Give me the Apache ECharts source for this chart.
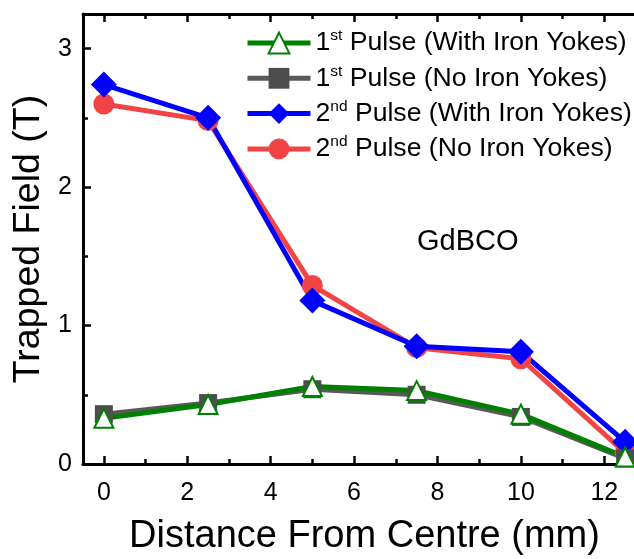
<!DOCTYPE html>
<html>
<head>
<meta charset="utf-8">
<script src="https://cdn.jsdelivr.net/npm/echarts@6/dist/echarts.min.js"></script>
<style>html,body{margin:0;padding:0;background:#fff}#c{width:634px;height:559px}</style>
</head>
<body>
<div id="c"></div>
<script>
// ---- data ----
var distances = [0, 2.5, 5, 7.5, 10, 12.5];
var firstWith = [0.33, 0.43, 0.56, 0.53, 0.36, 0.05];
var firstNo = [0.36, 0.44, 0.54, 0.50, 0.34, 0.04];
var secondWith = [2.74, 2.50, 1.18, 0.85, 0.81, 0.16];
var secondNo = [2.60, 2.48, 1.29, 0.84, 0.76, 0.08];
var xMajorTicks = [0, 2, 4, 6, 8, 10, 12];
var xMinorTicks = [1, 3, 5, 7, 9, 11, 13];
var yMajorTicks = [0, 1, 2, 3];
var yMinorTicks = [0.5, 1.5, 2.5];
var seriesNames = ['1st Pulse (With Iron Yokes)', '1st Pulse (No Iron Yokes)', '2nd Pulse (With Iron Yokes)', '2nd Pulse (No Iron Yokes)'];

function pairs(xs, ys) { return xs.map(function (x, i) { return [x, ys[i]]; }); }

var FONT = 'Liberation Sans, Arial, sans-serif';
var X_MIN = -0.5, X_MAX = 13, Y_MIN = 0, Y_MAX = 3.25;

function xAx(pos, showLine, ticks, len, labels, extra) {
  var a = {
    type: 'value', position: pos, min: X_MIN, max: X_MAX,
    axisLine: { show: showLine, onZero: false, lineStyle: { color: '#000', width: 3 } },
    axisTick: { show: true, inside: true, length: len, customValues: ticks, lineStyle: { color: '#000', width: 2.5 } },
    axisLabel: labels ? { show: true, customValues: ticks, color: '#000', fontSize: 25, fontFamily: FONT, margin: 17 } : { show: false },
    splitLine: { show: false }
  };
  return Object.assign(a, extra || {});
}
function yAx(ticks, len, labels, extra) {
  var a = {
    type: 'value', position: 'left', min: Y_MIN, max: Y_MAX,
    axisLine: { show: labels, onZero: false, lineStyle: { color: '#000', width: 3 } },
    axisTick: { show: true, inside: true, length: len, customValues: ticks, lineStyle: { color: '#000', width: 2.5 } },
    axisLabel: labels ? { show: true, customValues: ticks, color: '#000', fontSize: 25, fontFamily: FONT, margin: 11 } : { show: false },
    splitLine: { show: false }
  };
  return Object.assign(a, extra || {});
}

var chart = echarts.init(document.getElementById('c'));
var lineW = 5;
chart.setOption({
  animation: false,
  backgroundColor: '#fff',
  grid: { left: 83, top: 14, right: -12, bottom: 95, containLabel: false, outerBoundsMode: 'none' },
  xAxis: [
    xAx('bottom', true, xMajorTicks, 8, true, {
      name: 'Distance From Centre (mm)', nameLocation: 'middle', nameGap: 54,
      nameTextStyle: { fontSize: 38, fontFamily: FONT, color: '#000' }
    }),
    xAx('bottom', false, xMinorTicks, 5, false),
    xAx('top', true, xMajorTicks, 8, false),
    xAx('top', false, xMinorTicks, 5, false)
  ],
  yAxis: [
    yAx(yMajorTicks, 8, true, {
      name: 'Trapped Field (T)', nameLocation: 'middle', nameGap: 34,
      nameTextStyle: { fontSize: 37.5, fontFamily: FONT, color: '#000' }
    }),
    yAx(yMinorTicks, 5, false)
  ],
  legend: {
    orient: 'vertical', left: 245, top: 28, padding: 0, itemGap: 6.8, itemWidth: 63, itemHeight: 26,
    data: seriesNames,
    lineStyle: { width: 5 },
    itemStyle: { borderWidth: 3 },
    formatter: function (n) {
      var m = n.match(/^(\d)(st|nd)(.*)$/);
      return '{n|' + m[1] + '}{s|' + m[2] + '}{n|' + m[3] + '}';
    },
    textStyle: {
      color: '#000', fontFamily: FONT,
      rich: {
        n: { fontSize: 26.6, lineHeight: 30, fontFamily: FONT, color: '#000' },
        s: { fontSize: 15.5, lineHeight: 16, verticalAlign: 'top', fontFamily: FONT, color: '#000' }
      }
    }
  },
  graphic: [{
    type: 'text', left: 417, top: 227,
    style: { text: 'GdBCO', fontSize: 29, fontFamily: FONT, fill: '#000' }
  }],
  series: [
    {
      name: seriesNames[3], type: 'line', data: pairs(distances, secondNo),
      symbol: 'circle', symbolSize: 21,
      lineStyle: { color: '#f24444', width: lineW }, itemStyle: { color: '#f24444' }
    },
    {
      name: seriesNames[2], type: 'line', data: pairs(distances, secondWith),
      symbol: 'diamond', symbolSize: 26,
      lineStyle: { color: '#0000ff', width: lineW }, itemStyle: { color: '#0000ff' }
    },
    {
      name: seriesNames[1], type: 'line', data: pairs(distances, firstNo),
      symbol: 'rect', symbolSize: 18,
      lineStyle: { color: '#595959', width: lineW }, itemStyle: { color: '#4d4d4d' }
    },
    {
      name: seriesNames[0], type: 'line', data: pairs(distances, firstWith),
      symbol: 'emptyTriangle', symbolSize: 19,
      lineStyle: { color: '#008000', width: lineW }, itemStyle: { color: '#008000', borderColor: '#008000', borderWidth: 3 }
    }
  ]
});
</script>
</body>
</html>
